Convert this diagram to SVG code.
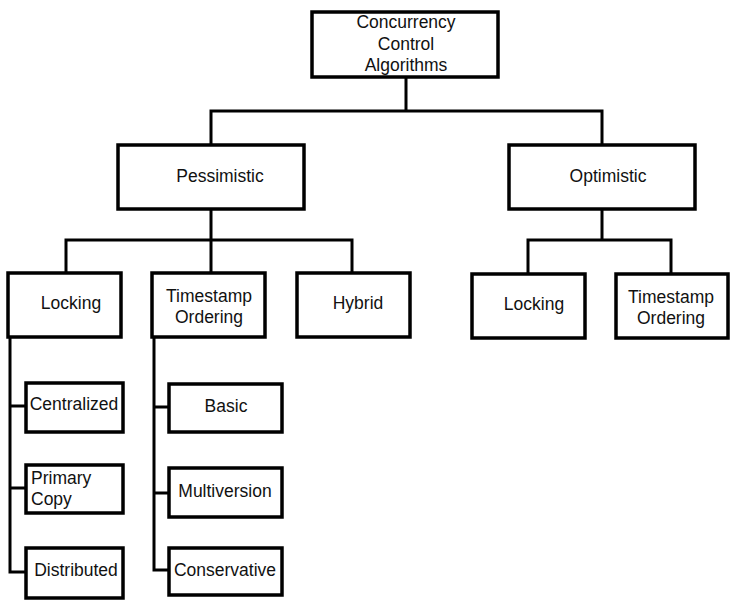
<svg xmlns="http://www.w3.org/2000/svg" width="734" height="607" viewBox="0 0 734 607">
<style>
.box{fill:#fff;stroke:#000;stroke-width:3.5}
.ln{fill:none;stroke:#000;stroke-width:3;stroke-linejoin:miter;stroke-linecap:square}
text{font-family:"Liberation Sans",Arial,sans-serif;font-size:17.5px;fill:#111;text-anchor:middle}
.l{text-anchor:start}
</style>
<rect width="734" height="607" fill="#fff"/>
<g id="connectors">
<path class="ln" d="M406 77V111M211 111H602M211 111V145M602 111V145"/>
<path class="ln" d="M211 209V240M66 240H352M66 240V273M211 240V273M352 240V273"/>
<path class="ln" d="M602 209V240M528 240H671M528 240V274M671 240V274"/>
<path class="ln" d="M10 337V572H26M10 406H26M10 488H26"/>
<path class="ln" d="M154 337V570H169M154 407H169M154 493H169"/>
</g>
<g id="root"><rect class="box" x="312" y="12" width="186" height="65"/><text x="406" y="28">Concurrency</text><text x="406" y="50">Control</text><text x="406" y="71">Algorithms</text></g>
<g id="pessimistic"><rect class="box" x="118" y="145" width="186" height="64"/><text x="220" y="182">Pessimistic</text></g>
<g id="optimistic"><rect class="box" x="509" y="145" width="186" height="64"/><text x="608" y="182">Optimistic</text></g>
<g id="p-locking"><rect class="box" x="8" y="273" width="113" height="64"/><text x="71" y="309">Locking</text></g>
<g id="p-timestamp"><rect class="box" x="152" y="273" width="113" height="64"/><text x="209" y="302">Timestamp</text><text x="209" y="323">Ordering</text></g>
<g id="hybrid"><rect class="box" x="297" y="273" width="113" height="64"/><text x="358" y="309">Hybrid</text></g>
<g id="o-locking"><rect class="box" x="472" y="274" width="113" height="64"/><text x="534" y="310">Locking</text></g>
<g id="o-timestamp"><rect class="box" x="616" y="274" width="112" height="64"/><text x="671" y="303">Timestamp</text><text x="671" y="324">Ordering</text></g>
<g id="centralized"><rect class="box" x="26" y="383" width="97" height="49"/><text x="74" y="410">Centralized</text></g>
<g id="primary-copy"><rect class="box" x="26" y="465" width="97" height="48"/><text class="l" x="31" y="484">Primary</text><text class="l" x="31" y="505">Copy</text></g>
<g id="distributed"><rect class="box" x="26" y="548" width="97" height="50"/><text x="76" y="576">Distributed</text></g>
<g id="basic"><rect class="box" x="169" y="384" width="113" height="48"/><text x="226" y="412">Basic</text></g>
<g id="multiversion"><rect class="box" x="169" y="468" width="113" height="49"/><text x="225" y="497">Multiversion</text></g>
<g id="conservative"><rect class="box" x="169" y="548" width="113" height="47"/><text x="225" y="576">Conservative</text></g>
</svg>
